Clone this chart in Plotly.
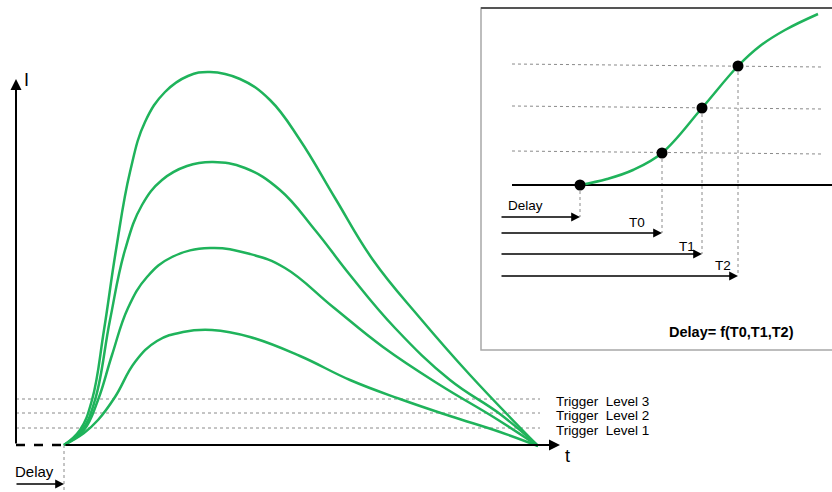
import plotly.graph_objects as go

# ---------------- data (diagram units: x to the right, y downward) ----------------
# main chart: four current pulses I(t) after the delay
c1_t = [64, 80, 92, 104, 116, 130, 145, 165, 188, 210, 240, 270, 300, 335, 373, 420, 470, 538]
c1_i = [445, 430, 400, 330, 250, 172, 122, 92, 76, 72, 79, 100, 140, 198, 260, 318, 375, 446]
c2_t = [64, 82, 95, 110, 125, 142, 162, 187, 213, 245, 280, 315, 350, 395, 450, 500, 538]
c2_i = [445, 430, 400, 320, 250, 205, 180, 166, 162, 168, 190, 230, 275, 328, 380, 414, 446]
c3_t = [64, 84, 98, 112, 128, 147, 172, 210, 250, 285, 333, 383, 440, 495, 538]
c3_i = [445, 430, 400, 355, 308, 277, 257, 248, 254, 268, 307, 347, 385, 418, 446]
c4_t = [64, 84, 98, 115, 135, 157, 183, 212, 250, 300, 350, 400, 450, 500, 538]
c4_i = [445, 433, 420, 397, 362, 341, 332, 330, 337, 356, 380, 399, 416, 432, 446]
curves = [(c1_t, c1_i), (c2_t, c2_i), (c3_t, c3_i), (c4_t, c4_i)]

trigger_levels = [428, 413, 399]
trigger_labels = ["Trigger  Level 1", "Trigger  Level 2", "Trigger  Level 3"]
baseline = 445
delay_t = 64

# inset: rising edge with three threshold crossings
inset_t = [580, 607, 633, 662, 702, 738, 760, 785, 818]
inset_i = [185, 179, 170, 153, 108, 66, 46, 30, 14]
cross_t = [580, 662, 702, 738]
cross_i = [185, 153, 108, 66]
cross_labels = ["Delay", "T0", "T1", "T2"]
arrow_rows = [217, 233, 254, 276]
level_left = [64, 106, 151]
level_right = [67, 109, 154]

GREEN = "#1fb35b"
GRAY = "#8a8a8a"
FONT = "Liberation Sans, Arial, sans-serif"

fig = go.Figure()

# inset frame
fig.add_shape(type="rect", x0=481, y0=8, x1=845, y1=350,
              line=dict(color="#a8a8a8", width=1.5), fillcolor="white", layer="below")
fig.add_shape(type="line", x0=481, y0=8, x1=845, y1=8,
              line=dict(color="#555555", width=2), layer="below")

# trigger level dotted lines
for lv in trigger_levels:
    fig.add_trace(go.Scatter(x=[16, 540], y=[lv, lv], mode="lines",
                             line=dict(color=GRAY, width=1, dash="dot"),
                             hoverinfo="skip", showlegend=False))

# delay dotted vertical
fig.add_trace(go.Scatter(x=[delay_t, delay_t], y=[baseline, 492], mode="lines",
                         line=dict(color=GRAY, width=1, dash="dot"),
                         hoverinfo="skip", showlegend=False))

# baseline: dashed before delay, solid after
fig.add_trace(go.Scatter(x=[16, delay_t], y=[baseline, baseline], mode="lines",
                         line=dict(color="black", width=2.5, dash="dash"),
                         hoverinfo="skip", showlegend=False))

# curves
for t, i in curves:
    fig.add_trace(go.Scatter(x=t, y=i, mode="lines",
                             line=dict(color=GREEN, width=2.5, shape="spline", smoothing=1.2),
                             hoverinfo="skip", showlegend=False))

# inset dotted level lines and verticals
for l, r in zip(level_left, level_right):
    fig.add_trace(go.Scatter(x=[512, 822], y=[l, r], mode="lines",
                             line=dict(color=GRAY, width=1, dash="dot"),
                             hoverinfo="skip", showlegend=False))
for ct, ci, row in zip(cross_t, cross_i, arrow_rows):
    fig.add_trace(go.Scatter(x=[ct, ct], y=[ci, row], mode="lines",
                             line=dict(color=GRAY, width=1, dash="dot"),
                             hoverinfo="skip", showlegend=False))

# inset baseline
fig.add_trace(go.Scatter(x=[512, 832], y=[185, 185], mode="lines",
                         line=dict(color="black", width=2),
                         hoverinfo="skip", showlegend=False))
# inset curve
fig.add_trace(go.Scatter(x=inset_t, y=inset_i, mode="lines",
                         line=dict(color=GREEN, width=2.5, shape="spline", smoothing=1.1),
                         hoverinfo="skip", showlegend=False))
fig.add_trace(go.Scatter(x=cross_t, y=cross_i, mode="markers",
                         marker=dict(color="black", size=11),
                         hoverinfo="skip", showlegend=False))

annotations = []

def arrow(x0, y0, x1, y1, w=1.8):
    annotations.append(dict(x=x1, y=y1, ax=x0, ay=y0, xref="x", yref="y",
                            axref="x", ayref="y", text="", showarrow=True,
                            arrowhead=2, arrowsize=1.1, arrowwidth=w,
                            arrowcolor="black"))

# main axes arrows
arrow(16, baseline, 16, 79, 2)
arrow(delay_t, baseline, 560, baseline, 2)
arrow(15, 484, delay_t, 484, 1.6)

# inset arrows
for ct, row in zip(cross_t, arrow_rows):
    arrow(500, row, ct, row, 1.6)

def text(x, y, s, size=13, anchor="left", bold=False):
    annotations.append(dict(x=x, y=y, xref="x", yref="y", text=f"<b>{s}</b>" if bold else s,
                            showarrow=False, xanchor=anchor, yanchor="middle",
                            font=dict(family=FONT, size=size, color="black")))

text(22, 80, "I", 18)
text(563, 456, "t", 18)
text(13, 471, "Delay", 15)
for lv, lab in zip(trigger_levels, trigger_labels):
    text(554, lv + 2, lab, 13.5)

label_pos = [(506, 205), (637, 222), (687, 246), (723, 265)]
for (lx, ly), lab in zip(label_pos, cross_labels):
    text(lx, ly, lab, 13.5, anchor="left" if lab == "Delay" else "center")
text(731, 332, "Delay= f(T0,T1,T2)", 14.5, anchor="center", bold=True)

fig.update_layout(
    width=832, height=492, autosize=False,
    margin=dict(l=0, r=0, t=0, b=0),
    paper_bgcolor="white", plot_bgcolor="white",
    xaxis=dict(range=[0, 832], visible=False, fixedrange=True),
    yaxis=dict(range=[492, 0], visible=False, fixedrange=True),
    annotations=annotations,
    showlegend=False,
)

fig.write_html("out.html", config={"displayModeBar": False},
               post_script="document.body.style.margin='0';document.body.style.padding='0';")
